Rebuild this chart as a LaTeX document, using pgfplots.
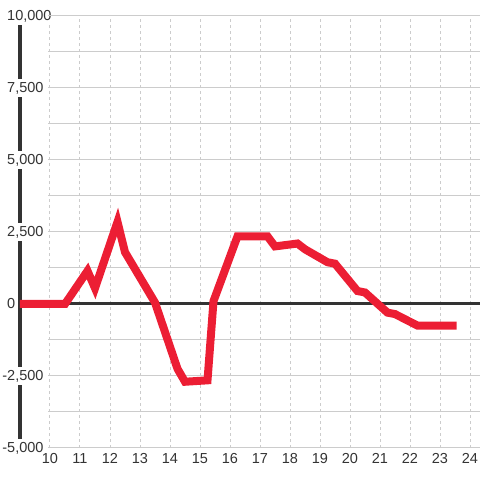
\documentclass[border=0pt]{standalone}
\usepackage{pgfplots}
\pgfplotsset{compat=1.18}
\usepackage{fontspec}
\setmainfont{Liberation Sans}
\definecolor{redline}{RGB}{236,30,52}
\definecolor{txt}{RGB}{51,51,51}
\definecolor{gridc}{RGB}{204,204,204}
\begin{document}
\begin{tikzpicture}
\begin{axis}[
  at={(20pt,32pt)}, anchor=south west,
  scale only axis, width=460pt, height=432pt,
  xmin=9, xmax=24.3333, ymin=-5000, ymax=10000,
  scaled ticks=false,
  axis x line*=bottom, x axis line style={draw=none},
  axis y line*=left, y axis line style={line width=4pt, color=txt, -},
  xtick={10,11,...,24},
  xticklabels={10,11,12,13,14,15,16,17,18,19,20,21,22,23,24},
  ytick={-5000,-2500,0,2500,5000,7500,10000},
  yticklabels={{\llap{-}5,000},{\llap{-}2,500},0,{2,500},{5,000},{7,500},{10,000}},
  major tick length=0pt,
  xmajorgrids=true, ymajorgrids=false,
  major grid style={gridc, line width=1pt, dash pattern=on 3pt off 3pt},
  tick label style={font=\fontsize{14.5}{16}\selectfont, text=txt},
  yticklabel style={anchor=west, xshift=-13pt, fill=white, inner xsep=0pt, inner ysep=3pt},
  xticklabel style={anchor=north, yshift=-1.5pt},
  clip=false,
]
\pgfplotsinvokeforeach{-5000,-3750,-2500,-1250,1250,2500,3750,5000,6250,7500,8750,10000}{
  \draw[gridc, line width=1pt] (axis cs:9.95,#1) -- (axis cs:24.3333,#1);
}
\addplot[txt, line width=3pt, line cap=butt] coordinates {(9,0) (24.3333,0)};
\addplot[redline, line width=8pt, line cap=butt, line join=miter] coordinates {
(9,0) (10.5,0) (11.25,1150) (11.5,550) (12.25,2850) (12.5,1800) (13.5,50)
(14.25,-2250) (14.5,-2700) (15.25,-2650) (15.45,100) (16.25,2350) (17.25,2350)
(17.5,2000) (18.25,2100) (18.5,1900) (19.25,1450) (19.5,1400) (20.25,450)
(20.5,400) (21.25,-300) (21.5,-350) (22.25,-750) (23.55,-750)
};
\end{axis}
\pgfresetboundingbox
\path (0,0) rectangle (480pt,480pt);
\end{tikzpicture}
\end{document}
